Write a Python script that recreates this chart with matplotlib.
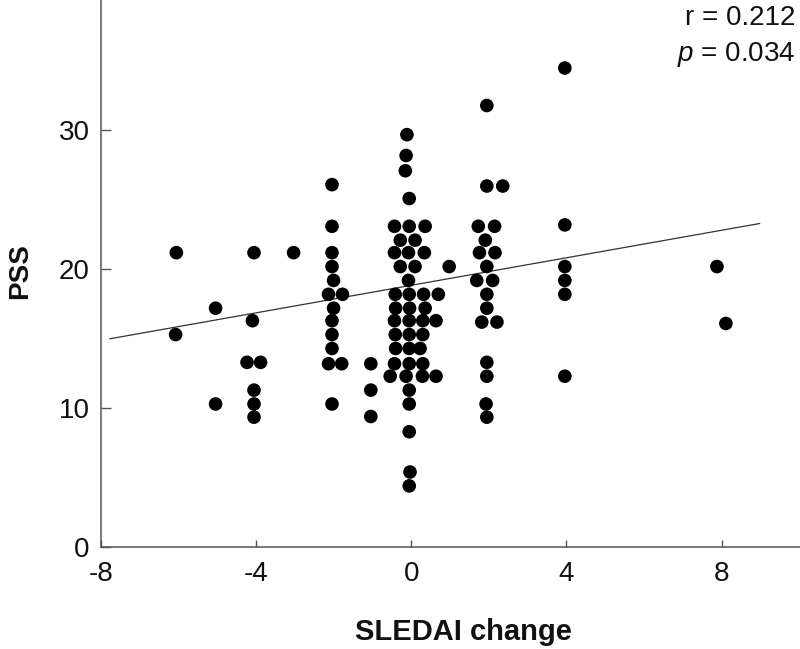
import matplotlib.pyplot as plt

plt.rcParams['font.family'] = ['Liberation Sans', 'DejaVu Sans']
plt.rcParams['mathtext.fontset'] = 'custom'
plt.rcParams['mathtext.it'] = 'Liberation Sans:italic'
plt.rcParams['mathtext.rm'] = 'Liberation Sans'

# ---------------------------------------------------------------------------
# data (x jittered slightly inside each column, as drawn)
# ---------------------------------------------------------------------------
x_m6 = [-6.05, -6.07]
y_m6 = [21.2, 15.3]

x_m5 = [-5.04, -5.04]
y_m5 = [17.2, 10.3]

x_m4 = [-4.05, -4.09, -4.23, -3.88, -4.05, -4.05, -4.05]
y_m4 = [21.2, 16.3, 13.3, 13.3, 11.3, 10.3, 9.35]

x_m3 = [-3.03]
y_m3 = [21.2]

x_m2 = [-2.04, -2.04, -2.04, -2.04, -2.00, -2.13, -1.77, -2.00, -2.04,
        -2.04, -2.04, -2.13, -1.79, -2.04]
y_m2 = [26.1, 23.1, 21.2, 20.2, 19.2, 18.2, 18.2, 17.2, 16.3,
        15.3, 14.3, 13.2, 13.2, 10.3]

x_m1 = [-1.04, -1.04, -1.04]
y_m1 = [13.2, 11.3, 9.4]

x_0 = [-0.11, -0.13, -0.15, -0.05,
       -0.43, -0.05, 0.36,
       -0.28, 0.10,
       -0.43, -0.07, 0.34,
       -0.28, 0.10,
       -0.07,
       -0.41, -0.05, 0.32, 0.70,
       -0.40, -0.04, 0.36,
       -0.43, -0.05, 0.30, 0.64,
       -0.41, -0.05, 0.30,
       -0.40, -0.05, 0.23,
       -0.43, -0.05, 0.30,
       -0.54, -0.13, 0.29, 0.64,
       -0.05, -0.05, -0.05, -0.03, -0.05]
y_0 = [29.7, 28.2, 27.1, 25.1,
       23.1, 23.1, 23.1,
       22.1, 22.1,
       21.2, 21.2, 21.2,
       20.2, 20.2,
       19.2,
       18.2, 18.2, 18.2, 18.2,
       17.2, 17.2, 17.2,
       16.3, 16.3, 16.3, 16.3,
       15.3, 15.3, 15.3,
       14.3, 14.3, 14.3,
       13.2, 13.2, 13.2,
       12.3, 12.3, 12.3, 12.3,
       11.3, 10.3, 8.3, 5.4, 4.4]

x_1 = [0.98]
y_1 = [20.2]

x_2 = [1.95, 1.95, 2.36, 1.73, 2.15, 1.91, 1.76, 2.16, 1.95, 1.69,
       2.10, 1.95, 1.95, 1.82, 2.21, 1.95, 1.95, 1.93, 1.95]
y_2 = [31.8, 26.0, 26.0, 23.1, 23.1, 22.1, 21.2, 21.2, 20.2, 19.2,
       19.2, 18.2, 17.2, 16.2, 16.2, 13.3, 12.3, 10.3, 9.35]

x_4 = [3.96, 3.96, 3.96, 3.96, 3.96, 3.96]
y_4 = [34.5, 23.2, 20.2, 19.2, 18.2, 12.3]

x_8 = [7.88, 8.11]
y_8 = [20.2, 16.1]

sledai = x_m6 + x_m5 + x_m4 + x_m3 + x_m2 + x_m1 + x_0 + x_1 + x_2 + x_4 + x_8
pss = y_m6 + y_m5 + y_m4 + y_m3 + y_m2 + y_m1 + y_0 + y_1 + y_2 + y_4 + y_8

# regression line end points as drawn
fit_x = [-7.76, 8.98]
fit_y = [15.0, 23.3]

x_ticks = [-8, -4, 0, 4, 8]
y_ticks = [0, 10, 20, 30]

# ---------------------------------------------------------------------------
fig = plt.figure(figsize=(8, 6.49), dpi=100)
ax = fig.add_axes([0.1259, 0.1572, 0.8741, 0.8428])

ax.scatter(sledai, pss, s=96, color='black', edgecolors='none', zorder=3)
ax.plot(fit_x, fit_y, color='#333333', lw=0.9, zorder=2)

ax.set_xlim(-8, 10.02)
ax.set_ylim(0, 39.4)
ax.set_xticks(x_ticks)
ax.set_yticks(y_ticks)
ax.set_xticklabels([str(t) for t in x_ticks])

for s in ['top', 'right']:
    ax.spines[s].set_visible(False)
for s in ['left', 'bottom']:
    ax.spines[s].set_color('#555555')
    ax.spines[s].set_linewidth(1.1)

ax.tick_params(axis='both', direction='in', colors='#555555',
               labelcolor='#111111', labelsize=20, width=1.0)
ax.tick_params(axis='x', length=5, pad=10)
ax.tick_params(axis='y', length=7, pad=8)

ax.set_xlabel('SLEDAI change', fontsize=21, fontweight='bold', color='#111111')
ax.set_ylabel('PSS', fontsize=20, fontweight='bold', color='#111111')
ax.xaxis.set_label_coords(0.518, -0.13)
ax.yaxis.set_label_coords(-0.097, 0.505)

fig.text(0.994, 0.972, 'r = 0.212', ha='right', va='center',
         fontsize=20, color='#111111')
fig.text(0.994, 0.916, '$p$ = 0.034', ha='right', va='center',
         fontsize=20, color='#111111')

fig.savefig('out.png', dpi=100)
